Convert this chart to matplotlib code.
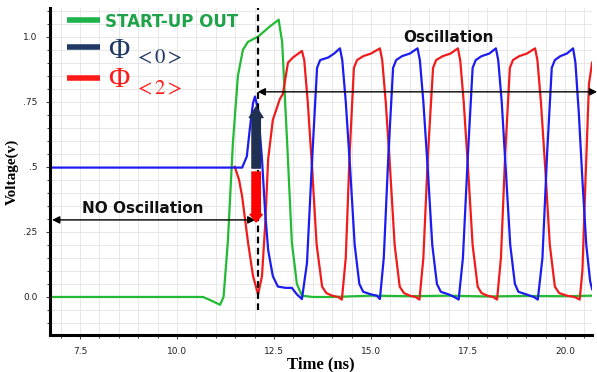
import matplotlib
matplotlib.use("Agg")
import matplotlib.pyplot as plt
from matplotlib.ticker import MultipleLocator

plt.rcParams['mathtext.fontset'] = 'stix'

# START-UP OUT (green)
startup_t = [6.73, 10.67, 10.90, 11.11, 11.20, 11.31, 11.44, 11.57, 11.70, 11.83, 12.09, 12.40,
             12.58, 12.62, 12.71, 12.84, 12.96, 13.09, 13.22, 13.50, 14.00, 15.00, 16.00,
             17.00, 18.00, 19.00, 20.00, 20.70]
startup_v = [0.0, 0.0, -0.015, -0.03, 0.0, 0.21, 0.59, 0.85, 0.95, 0.98, 1.0, 1.04,
             1.06, 1.065, 0.98, 0.59, 0.21, 0.05, 0.005, 0.0, 0.0, 0.005, 0.003,
             0.005, 0.002, 0.004, 0.003, 0.005]

# PHI<0> (blue)
phi0_t = [6.73, 11.68, 11.80, 11.88, 11.96, 12.01, 12.09, 12.19, 12.27, 12.35, 12.47, 12.60, 12.80,
          12.96, 13.09, 13.22,
          13.35, 13.48, 13.61, 13.69, 13.90, 14.05, 14.20,
          14.26, 14.35, 14.46, 14.58, 14.70, 14.80, 15.00, 15.15, 15.23,
          15.33, 15.45, 15.57, 15.65, 15.80, 16.00, 16.20,
          16.26, 16.35, 16.46, 16.58, 16.70, 16.80, 17.00, 17.15, 17.26,
          17.37, 17.50, 17.62, 17.70, 17.85, 18.05, 18.22,
          18.28, 18.37, 18.47, 18.59, 18.71, 18.80, 19.00, 19.20, 19.30,
          19.42, 19.54, 19.66, 19.74, 19.88, 20.05, 20.21,
          20.27, 20.36, 20.45, 20.55, 20.65, 20.70]
phi0_v = [0.497, 0.497, 0.54, 0.65, 0.745, 0.77, 0.72, 0.53, 0.33, 0.18, 0.08, 0.04, 0.035,
          0.035, 0.01, -0.008,
          0.13, 0.52, 0.88, 0.91, 0.92, 0.935, 0.955,
          0.91, 0.75, 0.5, 0.2, 0.05, 0.02, 0.01, 0.005, -0.008,
          0.15, 0.55, 0.88, 0.91, 0.925, 0.935, 0.955,
          0.91, 0.75, 0.5, 0.2, 0.05, 0.02, 0.01, 0.0, -0.01,
          0.15, 0.55, 0.88, 0.91, 0.925, 0.935, 0.955,
          0.91, 0.75, 0.5, 0.2, 0.05, 0.02, 0.01, 0.0, -0.01,
          0.15, 0.55, 0.88, 0.91, 0.925, 0.935, 0.955,
          0.9, 0.7, 0.45, 0.2, 0.06, 0.03]

# PHI<2> (red), sits under the blue 0.5 level until it breaks away
phi2_t = [11.49, 11.60, 11.68, 11.83, 11.96, 12.09, 12.19, 12.27, 12.35, 12.47, 12.65, 12.73,
          12.86, 12.99, 13.22,
          13.28, 13.37, 13.48, 13.60, 13.74, 13.85, 14.00, 14.15, 14.25,
          14.35, 14.45, 14.56, 14.64, 14.80, 15.00, 15.23,
          15.29, 15.38, 15.49, 15.61, 15.74, 15.85, 16.00, 16.15, 16.25,
          16.35, 16.47, 16.60, 16.68, 16.85, 17.05, 17.24,
          17.30, 17.39, 17.50, 17.62, 17.75, 17.85, 18.00, 18.15, 18.25,
          18.35, 18.46, 18.58, 18.66, 18.82, 19.02, 19.23,
          19.29, 19.38, 19.49, 19.61, 19.74, 19.85, 20.05, 20.25, 20.38,
          20.45, 20.53, 20.62, 20.70]
phi2_v = [0.5, 0.45, 0.385, 0.21, 0.08, 0.01, 0.08, 0.27, 0.53, 0.68, 0.76, 0.78,
          0.9, 0.92, 0.945,
          0.91, 0.75, 0.5, 0.2, 0.04, 0.015, 0.005, 0.0, -0.01,
          0.15, 0.55, 0.88, 0.91, 0.925, 0.935, 0.955,
          0.91, 0.75, 0.5, 0.2, 0.04, 0.015, 0.005, 0.0, -0.01,
          0.15, 0.55, 0.88, 0.91, 0.925, 0.935, 0.955,
          0.91, 0.75, 0.5, 0.2, 0.04, 0.015, 0.005, 0.0, -0.01,
          0.15, 0.55, 0.88, 0.91, 0.925, 0.935, 0.955,
          0.91, 0.75, 0.5, 0.2, 0.04, 0.015, 0.005, 0.0, -0.01,
          0.1, 0.45, 0.82, 0.9]

x_ticks = [7.5, 10.0, 12.5, 15.0, 17.5, 20.0]
x_labels = ["7.5", "10.0", "12.5", "15.0", "17.5", "20.0"]
y_ticks = [0.0, 0.25, 0.5, 0.75, 1.0]
y_labels = ["0.0", ".25", ".5", ".75", "1.0"]

t_start = 12.08  # oscillation starts

c_green = '#22bb33'
c_blue = '#1c1cf0'
c_red = '#f01c1c'

fig = plt.figure(figsize=(5.97, 3.72), dpi=100)
ax = fig.add_axes([0.0838, 0.0995, 0.908, 0.879])

ax.plot(startup_t, startup_v, color=c_green, lw=1.6)
ax.plot(phi2_t, phi2_v, color=c_red, lw=1.6)
ax.plot(phi0_t, phi0_v, color=c_blue, lw=1.6)

ax.set_xlim(6.727, 20.70)
ax.set_ylim(-0.146, 1.11)

ax.set_xticks(x_ticks)
ax.set_xticklabels(x_labels)
ax.set_yticks(y_ticks)
ax.set_yticklabels(y_labels)
ax.xaxis.set_minor_locator(MultipleLocator(0.5))
ax.yaxis.set_minor_locator(MultipleLocator(0.05))
ax.tick_params(which='both', labelsize=6.5, labelcolor='#222222', width=0.8, color='#444444')
ax.tick_params(which='major', length=3, pad=6)
ax.tick_params(which='minor', length=2)
ax.grid(which='both', color='#e4e4e4', lw=0.6)
ax.set_axisbelow(True)

for s in ['top', 'right']:
    ax.spines[s].set_visible(False)
for s in ['left', 'bottom']:
    ax.spines[s].set_linewidth(2.2)

ax.set_xlabel("Time (ns)", family='Liberation Serif', fontweight='bold', fontsize=12, labelpad=0)
ax.set_ylabel("Voltage(v)", family='Liberation Serif', fontweight='bold', fontsize=11, labelpad=3)

# start marker
ax.plot([t_start, t_start], [-0.05, 1.11], color='black', lw=1.6, ls=(0, (3, 2)), zorder=5)

# Oscillation / NO Oscillation
ax.annotate("", xy=(20.83, 0.788), xytext=(t_start, 0.788),
            arrowprops=dict(arrowstyle='<|-|>', color='black', lw=1.0, mutation_scale=11,
                            shrinkA=0, shrinkB=0), annotation_clip=False)
ax.text(16.99, 0.996, "Oscillation", ha='center', va='center', fontsize=11, fontweight='bold',
        color='#111111')
ax.annotate("", xy=(12.02, 0.296), xytext=(6.78, 0.296),
            arrowprops=dict(arrowstyle='<|-|>', color='black', lw=1.0, mutation_scale=11,
                            shrinkA=0, shrinkB=0))
ax.text(9.12, 0.338, "NO Oscillation", ha='center', va='center', fontsize=11, fontweight='bold',
        color='#111111')

# phase arrows
ax.annotate("", xy=(12.04, 0.73), xytext=(12.04, 0.495),
            arrowprops=dict(arrowstyle='simple,head_length=0.7,head_width=0.9,tail_width=0.55',
                            color='#1f3050', mutation_scale=11, shrinkA=0, shrinkB=0), zorder=6)
ax.annotate("", xy=(12.04, 0.288), xytext=(12.04, 0.48),
            arrowprops=dict(arrowstyle='simple,head_length=0.5,head_width=0.8,tail_width=0.55',
                            color='#ff0000', mutation_scale=11, shrinkA=0, shrinkB=0), zorder=6)

# legend, laid out by hand (mixed fonts and sizes)
leg_rows = [("#1db34b", 0.963), ("#1f3864", 0.881), ("#ff1a1a", 0.786)]
for col, yy in leg_rows:
    ax.plot([0.031, 0.092], [yy, yy], color=col, lw=4, transform=ax.transAxes,
            solid_capstyle='butt', clip_on=False)
ax.text(0.101, 0.957, "START-UP OUT", transform=ax.transAxes, fontsize=12, fontweight='bold',
        color='#1fa34a', va='center', ha='left')
ax.text(0.108, 0.847, "Φ", transform=ax.transAxes, fontsize=21, family='Liberation Serif',
        color='#1f3864', va='baseline', ha='left')
ax.text(0.155, 0.830, r"$<0>$", transform=ax.transAxes, fontsize=15,
        color='#1f3864', va='baseline', ha='left')
ax.text(0.108, 0.758, "Φ", transform=ax.transAxes, fontsize=21, family='Liberation Serif',
        color='#ff1a1a', va='baseline', ha='left')
ax.text(0.155, 0.735, r"$<2>$", transform=ax.transAxes, fontsize=15,
        color='#ff1a1a', va='baseline', ha='left')

fig.savefig("out.png", dpi=100)
